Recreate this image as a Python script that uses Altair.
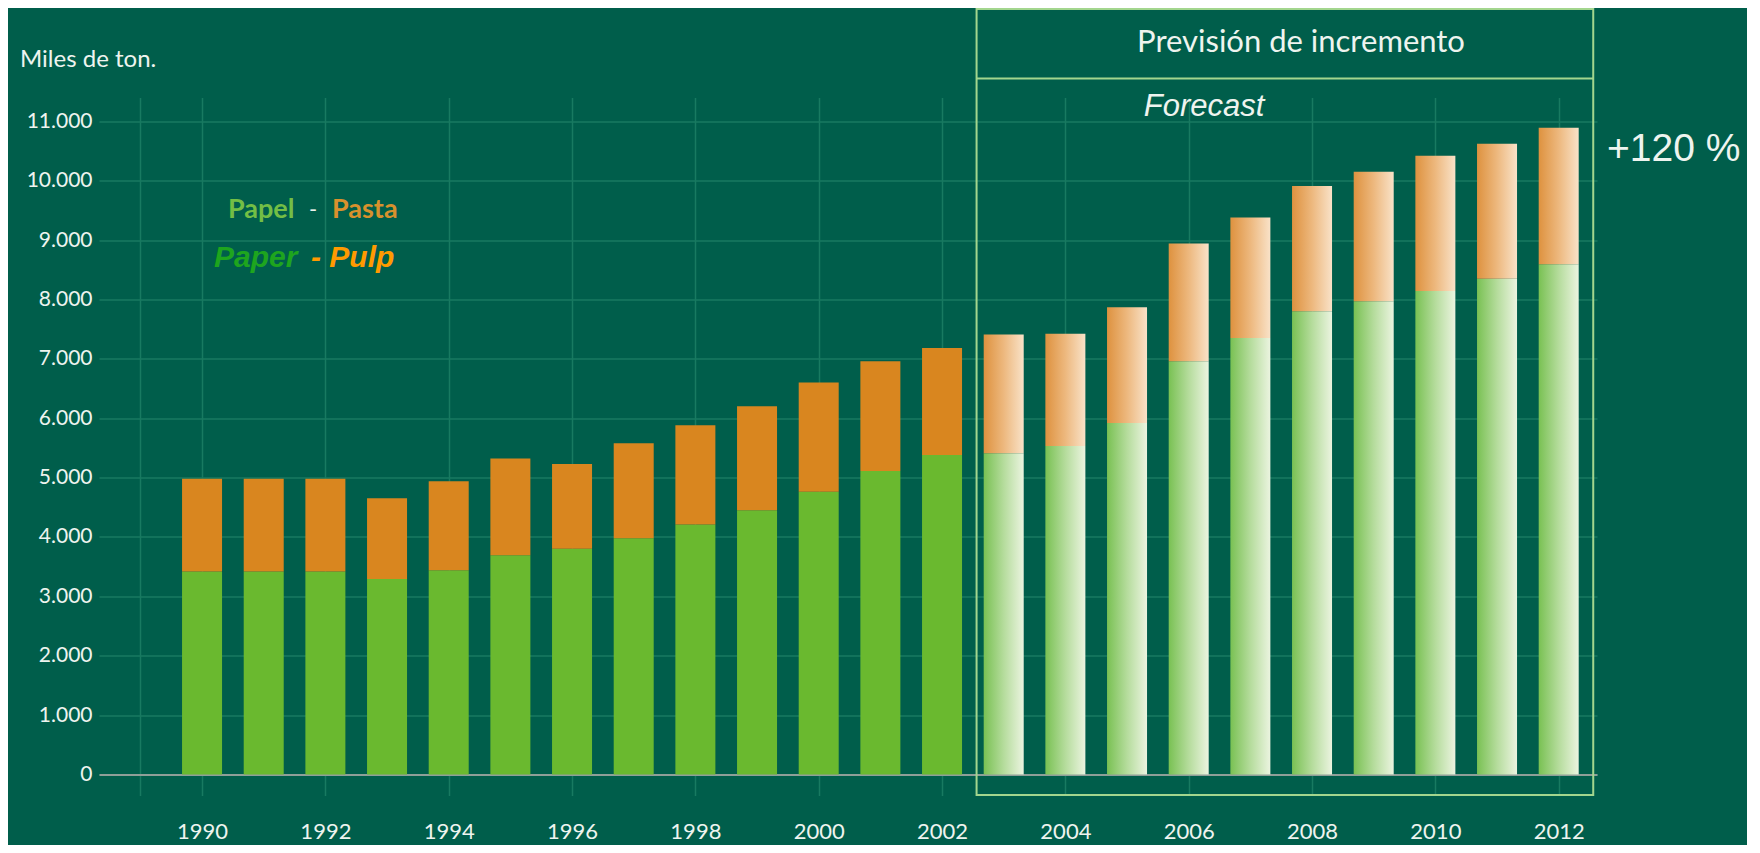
import altair as alt
import pandas as pd

# ---- data ----
years = list(range(1990, 2013))
paper = [3420, 3420, 3420, 3290, 3440, 3690, 3800, 3980, 4210, 4450, 4760, 5110,
         5380, 5410, 5530, 5920, 6960, 7350, 7800, 7970, 8140, 8350, 8590]
pulp = [1560, 1560, 1560, 1360, 1500, 1630, 1430, 1600, 1670, 1750, 1840, 1850,
        1800, 2000, 1890, 1950, 1980, 2030, 2110, 2180, 2280, 2270, 2300]
forecast_start = 2003
x_ticks = [1989] + list(range(1990, 2013, 2))
y_ticks = list(range(0, 11001, 1000))

df = pd.DataFrame({"year": years, "paper": paper, "pulp": pulp})

BG = "#005e4b"
GRID = "#187a61"
GREEN = "#6ab92f"
ORANGE = "#d9861f"
BOX = "#a3d68e"
LABEL = "#eef4ef"

x_scale = alt.Scale(domain=[1988.41, 2012.54], nice=False, zero=False)
y_scale = alt.Scale(domain=[0, 11400], nice=False)

x_axis = alt.Axis(values=x_ticks, labelExpr="datum.value == 1989 ? '' : datum.value",
                  grid=True, gridColor=GRID, gridWidth=1.5,
                  domainColor="#8f9f98", domainWidth=2,
                  ticks=True, tickColor=GRID, tickWidth=1.5, tickSize=21,
                  labelPadding=26, labelColor=LABEL, labelFont="Lato",
                  labelFontSize=22, title=None)
y_axis = alt.Axis(values=y_ticks,
                  labelExpr="replace(format(datum.value, ','), ',', '.')",
                  grid=True, gridColor=GRID, gridWidth=1.5,
                  domain=False, ticks=False, labelPadding=7,
                  labelColor=LABEL, labelFont="Lato", labelFontSize=21, title=None)

base = alt.Chart(df).transform_calculate(total="datum.paper + datum.pulp")

hist = base.transform_filter(f"datum.year < {forecast_start}")
fore = base.transform_filter(f"datum.year >= {forecast_start}")

BW = 40

hist_paper = hist.mark_bar(size=BW, color=GREEN).encode(
    x=alt.X("year:Q", scale=x_scale, axis=x_axis),
    y=alt.Y("paper:Q", scale=y_scale, axis=y_axis),
    y2=alt.datum(0),
)
hist_pulp = hist.mark_bar(size=BW, color=ORANGE).encode(
    x=alt.X("year:Q"), y=alt.Y("total:Q"), y2=alt.Y2("paper:Q"),
)

green_grad = alt.Gradient(gradient="linear", x1=0, x2=1, y1=0, y2=0, stops=[
    alt.GradientStop(color="#79c153", offset=0),
    alt.GradientStop(color="#b5dc9c", offset=0.5),
    alt.GradientStop(color="#ebf4e0", offset=1)])
orange_grad = alt.Gradient(gradient="linear", x1=0, x2=1, y1=0, y2=0, stops=[
    alt.GradientStop(color="#de923f", offset=0),
    alt.GradientStop(color="#edb87e", offset=0.5),
    alt.GradientStop(color="#f9e2c8", offset=1)])

fore_paper = fore.mark_bar(size=BW, color=green_grad).encode(
    x=alt.X("year:Q"), y=alt.Y("paper:Q"), y2=alt.datum(0),
)
fore_pulp = fore.mark_bar(size=BW, color=orange_grad).encode(
    x=alt.X("year:Q"), y=alt.Y("total:Q"), y2=alt.Y2("paper:Q"),
)

# forecast frame
box_df = pd.DataFrame({"x0": [2002.56], "x1": [2012.56]})
box = alt.Chart(box_df).mark_rect(filled=False, stroke=BOX, strokeWidth=2).encode(
    x=alt.X("x0:Q"), x2="x1:Q", y=alt.value(-88.5), y2=alt.value(697.5))
divider = alt.Chart(box_df).mark_rule(stroke=BOX, strokeWidth=2).encode(
    x=alt.X("x0:Q"), x2="x1:Q", y=alt.value(-19))

# texts
def txt(s, x, y, color, size, font="Lato", weight="normal", style="normal", align="left"):
    return alt.Chart(pd.DataFrame({"t": [s]})).mark_text(
        align=align, baseline="middle", font=font, fontSize=size,
        fontWeight=weight, fontStyle=style, color=color,
    ).encode(text="t:N", x=alt.value(x), y=alt.value(y))

texts = [
    txt("Miles de ton.", -79, -38, LABEL, 24),
    txt("Previsión de incremento", 1202, -55, LABEL, 31, align="center"),
    txt("Forecast", 1105, 9, LABEL, 31, font="Liberation Sans", style="italic", align="center"),
    txt("+120 %", 1508, 51, LABEL, 39, font="Liberation Sans"),
    txt("Papel", 129, 112, "#73be45", 27, weight="bold"),
    txt("-", 210, 112, LABEL, 22),
    txt("Pasta", 233, 112, "#d8912d", 27, weight="bold"),
    txt("Paper", 115, 160, "#1ea51e", 30, font="Liberation Sans", weight="bold", style="italic"),
    txt("- Pulp", 212, 160, "#ff9a00", 30, font="Liberation Sans", weight="bold", style="italic"),
]

chart = alt.layer(hist_paper, hist_pulp, fore_paper, fore_pulp, box, divider, *texts).properties(
    width=1498, height=677,
    background=BG,
    autosize=alt.AutoSizeParams(type="none"),
    padding={"left": 91, "top": 89.5, "right": 150, "bottom": 70},
).configure_view(stroke=None)

chart.save("out.html", embed_options={"renderer": "svg", "actions": False})
